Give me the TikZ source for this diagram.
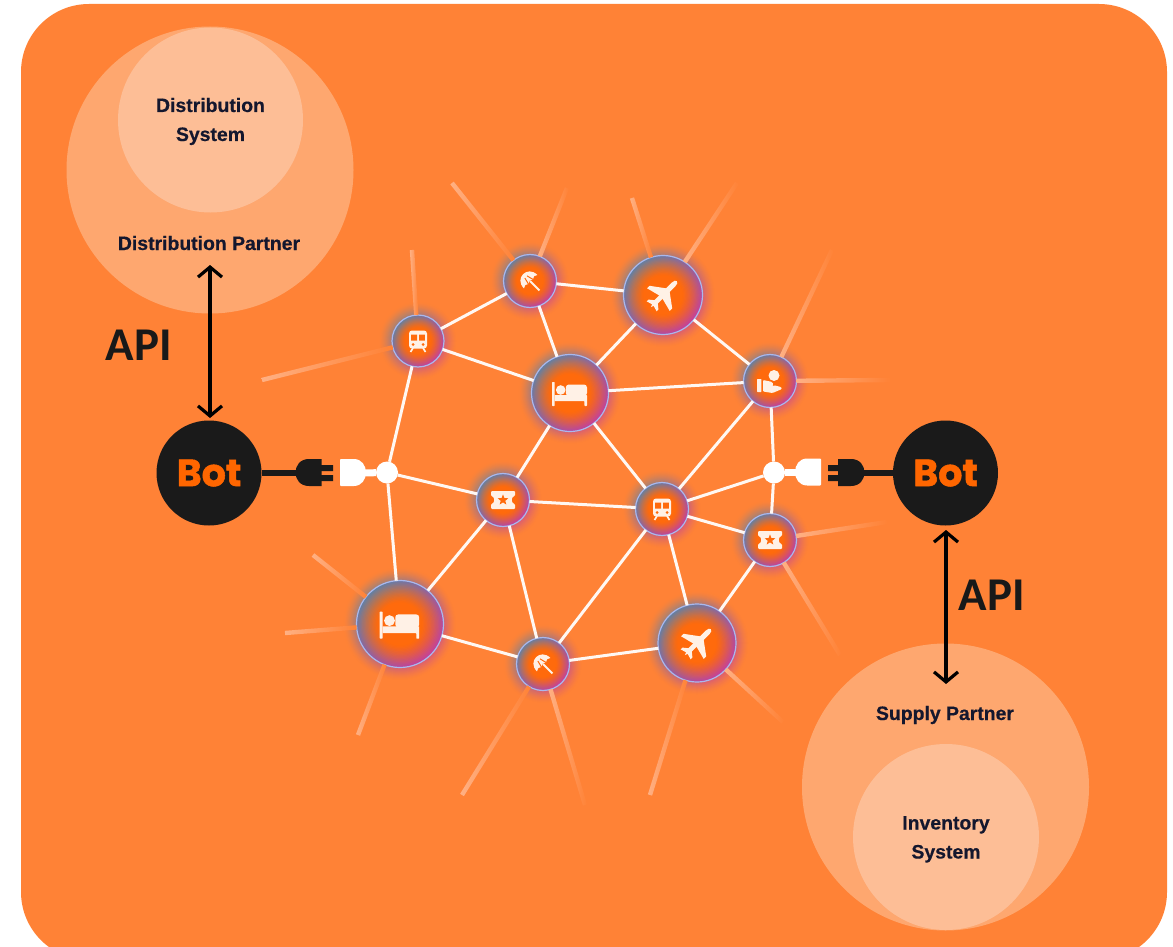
\documentclass[tikz,border=0pt]{standalone}
\usepackage{fontspec}
\setmainfont{Liberation Sans}
\newfontfamily\labelfont[BoldFeatures={FakeBold=.5}]{Liberation Sans}
\newfontfamily\apifont{Carlito}
\newfontfamily\botfont[BoldFont=*,BoldFeatures={FakeBold=1.4}]{Poppins Bold}
\usetikzlibrary{arrows.meta,calc}
\definecolor{bgorange}{HTML}{FF8236}
\definecolor{outerdisc}{HTML}{FEA76F}
\definecolor{innerdisc}{HTML}{FDBE96}
\definecolor{botblack}{HTML}{1A1A1A}
\definecolor{bottext}{HTML}{FF6600}
\definecolor{labeltext}{HTML}{14172E}
\definecolor{hubcore}{HTML}{FF6A0C}
\definecolor{hubblue}{HTML}{5F80A8}
\definecolor{hubpink}{HTML}{C2409E}
\definecolor{hubrim}{HTML}{AAB8EC}
\definecolor{edgewhite}{HTML}{FFF8F3}
\definecolor{raypeach}{HTML}{FFB083}
\definecolor{iconwhite}{HTML}{FFF1E6}
\tikzset{
  x=1pt,y=-1pt,
  hubdisc/.style={circle,inner sep=0pt,outer sep=0pt,top color=hubblue,bottom color=hubpink,shading angle=45},
  botdisc/.style={circle,inner sep=0pt,outer sep=0pt,fill=botblack,minimum size=105pt,text=bottext,font=\botfont\bfseries\fontsize{38}{38}\selectfont},
  junction/.style={circle,inner sep=0pt,outer sep=0pt,fill=white,minimum size=22pt},
  meshedge/.style={draw=edgewhite,line width=3pt},
  raybar/.style={inner sep=0pt,outer sep=0pt,minimum height=4.4pt,left color=raypeach,right color=bgorange},
  apiarrow/.style={black,line width=3.2pt,{Straight Barb[length=10pt,width=24pt]}-{Straight Barb[length=10pt,width=24pt]}},
  disclabel/.style={inner sep=0pt,anchor=base,text=labeltext,font=\labelfont\bfseries\fontsize{19.4}{19.4}\selectfont},
  apilabel/.style={inner sep=0pt,anchor=base,text=black!90,font=\apifont\bfseries\fontsize{47}{47}\selectfont},
  pics/bedicon/.style={code={
    \fill[iconwhite,rounded corners=.6pt] (-18,-11) rectangle (-15.4,13);
    \fill[iconwhite] (-9.3,-3) circle (4.8);
    \fill[iconwhite,rounded corners=3pt] (-4.2,3) -- (-4.2,-8.5) -- (17,-8.5) -- (17,3) -- cycle;
    \fill[iconwhite,rounded corners=.6pt] (-15.4,2) -- (17,2) -- (17,13) -- (14.4,13) -- (14.4,8) -- (-15.4,8) -- cycle;
  }},
  pics/planeicon/.style={code={
    \begin{scope}[rotate=-45]
    \fill[iconwhite] (-2.6,-15) .. controls (-2.6,-21) and (2.6,-21) .. (2.6,-15) -- (2.4,11) -- (0,17) -- (-2.4,11) -- cycle;
    \fill[iconwhite] (-2.4,-7) -- (-16,3) -- (-16,6.5) -- (-2.4,3) -- (2.4,3) -- (16,6.5) -- (16,3) -- (2.4,-7) -- cycle;
    \fill[iconwhite] (-1.5,9) -- (-7,13.5) -- (-7,16) -- (0,14) -- (7,16) -- (7,13.5) -- (1.5,9) -- cycle;
    \end{scope}
  }},
  pics/umbrellaicon/.style={code={
    \begin{scope}[rotate=45]
    \draw[iconwhite,line width=1.8pt] (0,0) -- (0,14);
    \fill[iconwhite] (-10,1) .. controls (-10,-14) and (10,-14) .. (10,1) .. controls (8,-1) and (5,-1) .. (3.4,1) .. controls (2,-1) and (-2,-1) .. (-3.4,1) .. controls (-5,-1) and (-8,-1) .. (-10,1) -- cycle;
    \draw[hubcore,line width=1pt] (-1.6,-6) -- (-3.4,1) (1.6,-6) -- (3.4,1);
    \end{scope}
  }},
  pics/trainicon/.style={code={
    \fill[iconwhite,rounded corners=3pt] (-9,-10.5) rectangle (9,7.5);
    \fill[hubcore] (-6.8,-6.5) rectangle (-1,-.5) (1,-6.5) rectangle (6.8,-.5);
    \fill[hubcore] (-5,3.5) circle (1.5) (5,3.5) circle (1.5);
    \draw[iconwhite,line width=1.7pt] (-5,7) -- (-7.5,11) (5,7) -- (7.5,11);
  }},
  pics/ticketicon/.style={code={
    \fill[iconwhite,rounded corners=1pt] (-12,-9) -- (12,-9) -- (12,-4) .. controls (8,-3) and (8,3) .. (12,4) -- (12,9) -- (-12,9) -- (-12,4) .. controls (-8,3) and (-8,-3) .. (-12,-4) -- cycle;
    \fill[hubcore] (0,-5.6) -- (1.4,-1.9) -- (5.3,-1.7) -- (2.3,.8) -- (3.3,4.5) -- (0,2.4) -- (-3.3,4.5) -- (-2.3,.8) -- (-5.3,-1.7) -- (-1.4,-1.9) -- cycle;
  }},
  pics/handicon/.style={code={
    \fill[iconwhite] (4,-5.5) circle (5.5);
    \fill[iconwhite,rounded corners=.5pt] (-13,-2) rectangle (-8.6,11);
    \fill[iconwhite,rounded corners=1pt] (-7,-1) -- (0,.5) .. controls (3,1) and (3.5,3.5) .. (2,5) -- (5,4.5) -- (11,6) -- (12,8) -- (2.5,12) -- (-7,10.5) -- cycle;
  }},
}
% #1 name, #2 x, #3 y, #4 radius, #5 icon, #6 icon scale
\newcommand{\meshhub}[6]{%
  \foreach \k in {13,...,1}{%
    \pgfmathsetmacro{\mixval}{62*(1-\k/13.5)^1.5}%
    \colorlet{tmpA}{hubblue!\mixval!bgorange}\colorlet{tmpB}{hubpink!\mixval!bgorange}%
    \shade[top color=tmpA,bottom color=tmpB,shading angle=45] (#2,#3) circle ({#4+\k});
  }%
  \node[hubdisc,minimum size={2*#4*1pt}] (#1) at (#2,#3) {};
  \foreach \k in {1,...,16}{%
    \pgfmathsetmacro{\mixval}{100*(1-\k/16)^1.3}%
    \colorlet{tmpA}{hubblue!\mixval!hubcore}\colorlet{tmpB}{hubpink!\mixval!hubcore}%
    \shade[top color=tmpA,bottom color=tmpB,shading angle=45] (#2,#3) circle ({#4*(1-.5*\k/16)});
  }%
  \draw[hubrim,line width=1.2pt] (#2,#3) circle (#4);
  \pic[scale=#6] at (#2,#3) {#5};
}
% #1 ray name, #2 hub, #3 hub radius, #4 x, #5 y
\newcommand{\meshray}[5]{%
  \coordinate (#1end) at (#4,#5);
  \path let \p1=($(#1end)-(#2.center)$), \n1={atan2(\y1,\x1)}, \n2={veclen(\x1,\y1)-#3*1pt} in
    node[raybar,minimum width=\n2,rotate=\n1] (#1) at ($(#2.center)!.5!(#1end)!{#3*.5pt}!(#1end)$) {};
}
\begin{document}
\begin{tikzpicture}
\useasboundingbox (0,0) rectangle (1173,947);
\fill[white] (0,0) rectangle (1173,947);
\begin{scope}
\clip (0,0) rectangle (1173,947);
\fill[bgorange,rounded corners=68pt] (21,4) rectangle (1167,960);
\end{scope}

% partner discs
\fill[outerdisc] (210,170) circle (143.5);
\fill[innerdisc] (210.5,120) circle (92.5);
\fill[outerdisc] (945.5,787) circle (143.5);
\fill[innerdisc] (946,837) circle (93);

\node[disclabel] (distA) at (210.5,112) {Distribution};
\node[disclabel] (distB) at (210.5,141) {System};
\node[disclabel] (distP) at (209,250) {Distribution Partner};
\node[disclabel] (supP) at (945,720) {Supply Partner};
\node[disclabel] (invA) at (946,829.5) {Inventory};
\node[disclabel] (invB) at (946,858.5) {System};

% hubs
\meshhub{trainA}{418}{341}{26}{trainicon}{1}
\meshhub{umbA}{530}{281}{26.5}{umbrellaicon}{.95}
\meshhub{planeA}{663}{295}{39.5}{planeicon}{1}
\meshhub{bedA}{570}{393}{38.5}{bedicon}{1}
\meshhub{hand}{770}{381}{26.5}{handicon}{1}
\meshhub{ticketA}{503}{500}{26.5}{ticketicon}{1}
\meshhub{trainB}{662}{509}{26.5}{trainicon}{1}
\meshhub{ticketB}{770}{540}{26.5}{ticketicon}{1}
\meshhub{bedB}{400}{624}{43.5}{bedicon}{1.13}
\meshhub{umbB}{543}{664}{26.5}{umbrellaicon}{.95}
\meshhub{planeB}{697}{643}{39}{planeicon}{1}

\node[junction] (jL) at (387,472.5) {};
\node[junction] (jR) at (774,472.5) {};

% fading rays
\meshray{rA}{trainA}{26}{262}{380}
\meshray{rB}{trainA}{26}{412}{250}
\meshray{rC}{umbA}{26.5}{452}{183}
\meshray{rD}{umbA}{26.5}{567}{188}
\meshray{rE}{planeA}{39.5}{632}{198}
\meshray{rF}{planeA}{39.5}{737}{183}
\meshray{rG}{hand}{26.5}{832}{250}
\meshray{rH}{hand}{26.5}{890}{380}
\meshray{rI}{ticketB}{26.5}{887}{522}
\meshray{rJ}{ticketB}{26.5}{840}{655}
\meshray{rK}{planeB}{39}{783}{722}
\meshray{rL}{planeB}{39}{650}{795}
\meshray{rM}{umbB}{26.5}{585}{805}
\meshray{rN}{umbB}{26.5}{462}{795}
\meshray{rO}{bedB}{43.5}{285}{633}
\meshray{rP}{bedB}{43.5}{313}{555}
\meshray{rQ}{bedB}{43.5}{358}{735}

% mesh
\foreach \a/\b in {jL/trainA,jL/ticketA,jL/bedB,trainA/umbA,trainA/bedA,umbA/planeA,umbA/bedA,
  planeA/bedA,planeA/hand,bedA/hand,bedA/ticketA,bedA/trainB,hand/trainB,hand/jR,jR/trainB,jR/ticketB,
  ticketA/trainB,ticketA/bedB,ticketA/umbB,trainB/ticketB,trainB/umbB,trainB/planeB,ticketB/planeB,
  bedB/umbB,umbB/planeB}
  \draw[meshedge] (\a) -- (\b);

% bots
\node[botdisc] (botL) at (209,473) {Bot};
\node[botdisc] (botR) at (945.5,473) {Bot};

% left plug
\coordinate (plugL) at (300,473);
\coordinate (sockL) at (360,473);
\draw[botblack,line width=6.5pt] (botL) -- (plugL);
\fill[botblack] (321.7,459) -- (321.7,486) -- (309,486) .. controls (291,486) and (291,459) .. (309,459) -- cycle;
\fill[botblack] (321,465) rectangle (333,471) (321,475) rectangle (333,481);
\fill[white,rounded corners=.8pt] (340,459) -- (353,459) .. controls (370,459) and (370,486) .. (353,486) -- (340,486) -- cycle;
\draw[white,line width=7pt] (sockL) -- (jL);

% right plug
\coordinate (plugR) at (860,473);
\coordinate (sockR) at (802,472.5);
\draw[botblack,line width=6.5pt] (botR) -- (plugR);
\fill[botblack] (838,459) -- (838,486) -- (851,486) .. controls (869,486) and (869,459) .. (851,459) -- cycle;
\fill[botblack] (828,465) rectangle (839,471) (828,475) rectangle (839,481);
\fill[white,rounded corners=.8pt] (821,458.5) -- (808,458.5) .. controls (791,458.5) and (791,485.5) .. (808,485.5) -- (821,485.5) -- cycle;
\draw[white,line width=7pt] (sockR) -- (jR);

% API arrows
\coordinate (arrLa) at (210,265);
\coordinate (arrLb) at (210,418);
\coordinate (arrRa) at (946,530);
\coordinate (arrRb) at (946,684);
\draw[apiarrow] (arrLa) -- (arrLb);
\draw[apiarrow] (arrRa) -- (arrRb);
\node[apilabel] (apiL) at (139,360) {API};
\node[apilabel] (apiR) at (992,610) {API};
\end{tikzpicture}
\end{document}
